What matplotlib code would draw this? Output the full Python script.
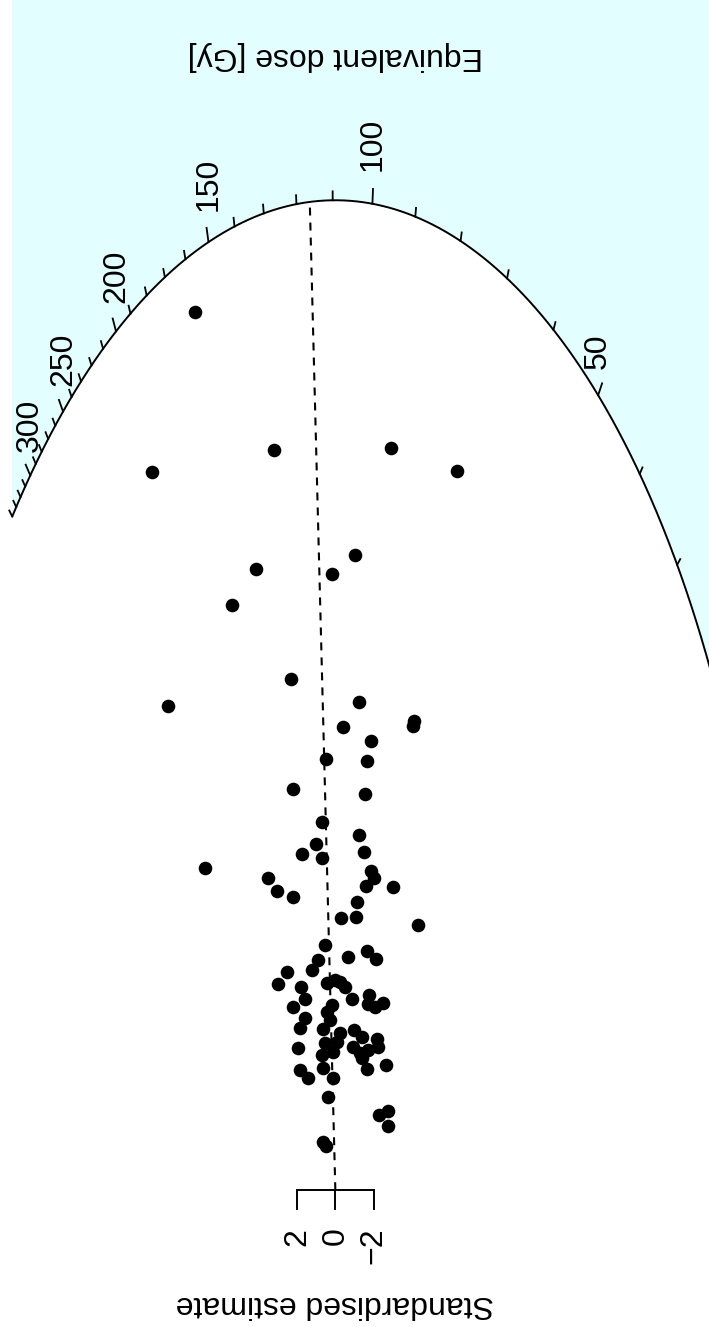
import numpy as np
import matplotlib.pyplot as plt

plt.rcParams['font.family'] = ['Liberation Sans', 'DejaVu Sans']

# radial plot coordinates of each aliquot: standardised estimate and precision
std_estimate = [7.33, 9.57, 3.22, -2.88, -6.34, -1.00, 0.17, 4.13, 5.39, 2.31,
                8.76, -1.24, -4.09, -4.04, -0.40, -1.86, 0.49, -1.63, 2.21, -1.55,
                0.71, -1.25, 1.02, 1.72, -1.48, 0.68, 6.79, 3.53, -1.85, -2.02,
                3.03, -1.62, -3.00, 2.19, -1.13, -0.31, -1.07, -4.30, 0.54, -0.66,
                -1.66, -2.11, 0.89, 1.22, 2.54, 2.99, 1.79, 0.45, 0.02, -0.25,
                -0.51, 1.57, -0.86, -1.78, -1.69, -2.06, -2.48, 2.19, 0.17, 0.42,
                1.58, 1.84, 0.28, 0.63, -0.25, -0.07, -0.99, -1.41, -2.16, -2.21,
                0.54, -0.94, -1.29, -1.72, 0.10, 0.71, 1.93, -1.38, 0.66, -2.63,
                -1.67, 1.84, 1.41, 0.14, 0.38, -2.30, -2.74, -2.74, 0.63, 0.50]
precision = [19.38, 15.85, 16.34, 16.38, 15.87, 14.01, 13.60, 13.70, 12.91, 11.29,
             10.68, 10.77, 10.36, 10.24, 10.22, 9.91, 9.51, 9.47, 8.85, 8.74,
             8.12, 7.84, 7.63, 7.43, 7.47, 7.33, 7.12, 6.90, 7.04, 6.88,
             6.61, 6.71, 6.70, 6.47, 6.35, 6.01, 6.02, 5.85, 5.42, 5.15,
             5.28, 5.10, 5.07, 4.86, 4.81, 4.54, 4.48, 4.58, 4.64, 4.60,
             4.49, 4.23, 4.22, 4.30, 4.12, 4.05, 4.13, 4.05, 4.08, 3.93,
             3.80, 3.58, 3.75, 3.55, 3.46, 3.27, 3.53, 3.38, 3.33, 3.16,
             3.24, 3.16, 3.02, 3.09, 3.05, 2.98, 3.13, 2.91, 2.70, 2.77,
             2.67, 2.65, 2.47, 2.47, 2.06, 1.67, 1.74, 1.41, 1.07, 0.97]

reference_dose = 109.3   # dose at standardised estimate 0
central_dose = 116.2     # central value (dashed line)
arc_major = [50, 100, 150, 200, 250, 300]
arc_minor = [30, 40, 60, 70, 80, 90, 110, 120, 130, 140, 160, 170, 180, 190,
             210, 220, 230, 240, 260, 270, 280, 290, 310, 320, 330, 340]
z_ticks = [2, 0, -2]

arc_radius = 21.85
z_squash = 0.949
z_edge = 16.88

fig = plt.figure(figsize=(7.09, 13.27), dpi=100)
ax = fig.add_axes([0, 0, 1, 1])
ax.set_xlim(17.51, -19.51)
ax.set_ylim(-3.02, 26.27)
ax.axis('off')


def arc_point(dose):
    s = np.log(dose) - np.log(reference_dose)
    t = arc_radius / np.sqrt(1 + (z_squash * s) ** 2)
    return t * s, t


# background outside the arc
zz = np.linspace(-arc_radius / z_squash, z_edge, 600)
arc_p = np.sqrt(np.clip(arc_radius ** 2 - (z_squash * zz) ** 2, 0, None))
ax.fill_between(zz, arc_p, 30, color='#E3FEFE', lw=0)
ax.plot(zz, arc_p, color='black', lw=1.4, solid_capstyle='butt')

# arc ticks and labels
for d in arc_minor:
    z, p = arc_point(d)
    if z <= z_edge:
        ax.plot([z, z * 1.009], [p, p * 1.009], color='black', lw=1.3)
for d in arc_major:
    z, p = arc_point(d)
    ax.plot([z, z * 1.015], [p, p * 1.015], color='black', lw=1.3)
    ax.text(z, p * 1.033, str(d), rotation=90,
            ha='center', va='bottom', fontsize=23)

# central value line
zc, pc = arc_point(central_dose)
ax.plot([0, zc], [0, pc], color='black', lw=1.5, linestyle=(0, (3.8, 3.4)))

# data points
ax.plot(std_estimate, precision, 'o', color='black', markersize=9.8,
        markeredgewidth=0)

# standardised estimate axis
ax.plot([z_ticks[0], z_ticks[-1]], [0, 0], color='black', lw=1.4)
for z in z_ticks:
    ax.plot([z, z], [0, -0.42], color='black', lw=1.4)
    label = str(z).replace('-', '\u2212')
    ax.annotate(label, (z, 0), xytext=(0, -27), textcoords='offset points',
                rotation=90, ha='center', va='top', fontsize=23)

ax.text(0.4725, 0.958, 'Equivalent dose [Gy]', transform=ax.transAxes,
        rotation=180, ha='center', va='center', fontsize=23)
ax.text(0.4725, 0.017, 'Standardised estimate', transform=ax.transAxes,
        rotation=180, ha='center', va='center', fontsize=23)

fig.savefig('out.png', dpi=100)
